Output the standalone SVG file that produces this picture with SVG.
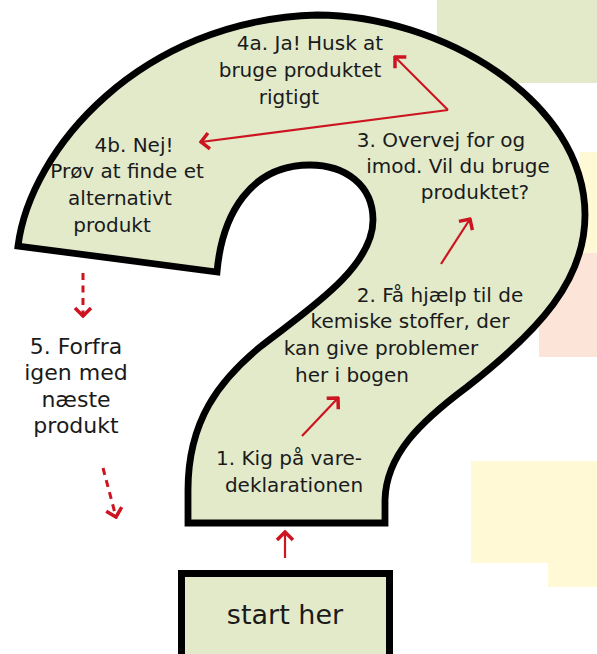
<svg xmlns="http://www.w3.org/2000/svg" width="597" height="654" viewBox="0 0 597 654">
<style>
.t{font-family:"DejaVu Sans","Verdana","Liberation Sans",sans-serif;font-size:20px;fill:#1a1a1a;text-anchor:middle}
.s5{font-size:22px}
.big{font-size:27px}
.shape{fill:#e2eaca;stroke:#000;stroke-width:6.8;stroke-linejoin:miter}
.c{fill:none;stroke:#cc1520;stroke-width:2.2}
.d{stroke-width:3;stroke-dasharray:7 5.5}
</style>
<defs>
<marker id="ah" markerUnits="userSpaceOnUse" viewBox="-12 -11 14 22" markerWidth="14" markerHeight="22" refX="0" refY="0" orient="auto">
<path d="M-8,-8 L0,0 L-8,8" fill="none" stroke="#cc1520" stroke-width="3.5"/>
</marker>
</defs>
<g id="background">
<rect x="437" y="0" width="160" height="83" fill="#e2eaca"/>
<rect x="580" y="152" width="17" height="101" fill="#fff9d6"/>
<rect x="539" y="253" width="58" height="104" fill="#fce4d8"/>
<rect x="471" y="461" width="126" height="102" fill="#fff9d6"/>
<rect x="548" y="563" width="49" height="24" fill="#fff9d6"/>
</g>
<g id="question-mark">
<path class="shape" d="M18,246 C30,150 140,20 317,15 C440,15 585,100 585,215 C585,280 540,330 467,387 C420,422 386,455 385,500 L385,523 L188,523 L188,490 C188,420 220,380 260,347 C300,315 373,270 373,220 C373,185 345,165 310,165 C250,165 222,215 217,272 Z"/>
</g>
<g id="step4a">
<text class="t" x="310" y="50">4a. Ja! Husk at</text>
<text class="t" x="300" y="77">bruge produktet</text>
<text class="t" x="289" y="104">rigtigt</text>
</g>
<g id="step4b">
<text class="t" x="134" y="152">4b. Nej!</text>
<text class="t" x="127" y="178">Prøv at finde et</text>
<text class="t" x="120" y="205">alternativt</text>
<text class="t" x="112" y="232">produkt</text>
</g>
<g id="step3">
<text class="t" x="441" y="147">3. Overvej for og</text>
<text class="t" x="458" y="173">imod. Vil du bruge</text>
<text class="t" x="475" y="199">produktet?</text>
</g>
<g id="step2">
<text class="t" x="440" y="302">2. Få hjælp til de</text>
<text class="t" x="410" y="328">kemiske stoffer, der</text>
<text class="t" x="381" y="355">kan give problemer</text>
<text class="t" x="352" y="382">her i bogen</text>
</g>
<g id="step1">
<text class="t" x="289" y="465">1. Kig på vare-</text>
<text class="t" x="294" y="492">deklarationen</text>
</g>
<g id="step5">
<text class="t s5" x="76" y="354">5. Forfra</text>
<text class="t s5" x="76" y="380">igen med</text>
<text class="t s5" x="76" y="407">næste</text>
<text class="t s5" x="76" y="433">produkt</text>
</g>
<g id="start">
<rect x="181.5" y="573.5" width="208" height="92" fill="#e2eaca" stroke="#000" stroke-width="7"/>
<text class="t big" x="285" y="624">start her</text>
</g>
<g id="connectors">
<line class="c" x1="285" y1="558" x2="285" y2="532" marker-end="url(#ah)"/>
<line class="c" x1="302" y1="436" x2="338" y2="398" marker-end="url(#ah)"/>
<line class="c" x1="441" y1="264" x2="470" y2="219" marker-end="url(#ah)"/>
<line class="c" x1="448" y1="110" x2="395" y2="57" marker-end="url(#ah)"/>
<line class="c" x1="448" y1="110" x2="201" y2="142" marker-end="url(#ah)"/>
<line class="c d" x1="83" y1="273" x2="83" y2="316" marker-end="url(#ah)"/>
<line class="c d" x1="103" y1="468" x2="116" y2="517" marker-end="url(#ah)"/>
</g>
</svg>
